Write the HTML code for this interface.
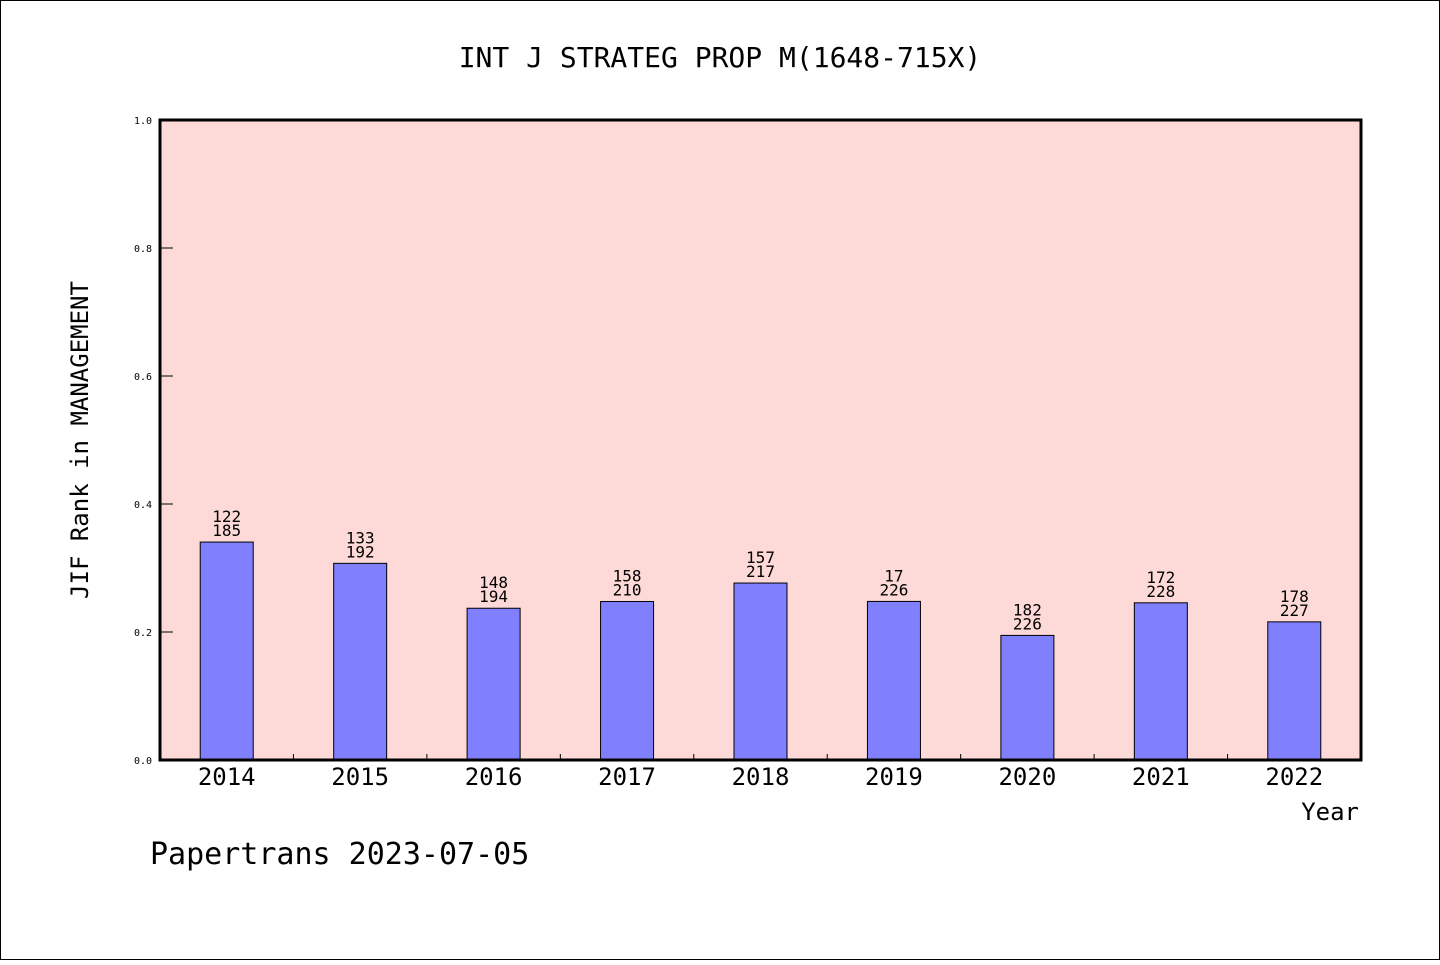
<!DOCTYPE html>
<html><head><meta charset="utf-8"><style>
body{margin:0;background:#fff}
svg text{font-family:"DejaVu Sans Mono","Liberation Mono",monospace;fill:#000}
</style></head><body>
<svg width="1440" height="960" xmlns="http://www.w3.org/2000/svg">
<rect x="0.5" y="0.5" width="1439" height="959" fill="#fff" stroke="#000"/>
<text x="720" y="67" font-size="28" text-anchor="middle">INT J STRATEG PROP M(1648-715X)</text>
<rect x="160" y="120" width="1201" height="640" fill="#fddad7"/>
<g id="bars"></g>
<rect x="160" y="120" width="1201" height="640" fill="none" stroke="#000" stroke-width="3"/>
<g id="axes"></g>
<text x="88" y="440" font-size="24" text-anchor="middle" transform="rotate(-90 88 440)">JIF Rank in MANAGEMENT</text>
<text x="1359" y="820" font-size="24" text-anchor="end">Year</text>
<text x="150" y="864" font-size="30">Papertrans 2023-07-05</text>
</svg>
<script>
const years=["2014","2015","2016","2017","2018","2019","2020","2021","2022"];
const ranks=[122,133,148,158,157,170,182,172,178];
const rankLabels=["122","133","148","158","157","17","182","172","178"];
const totals=[185,192,194,210,217,226,226,228,227];
const yTicks=["0.0","0.2","0.4","0.6","0.8","1.0"];
const NS="http://www.w3.org/2000/svg";
const X0=160,W=1201,Y0=760,H=640,n=years.length,step=W/n;
const xc=i=>X0+step*(i+0.5);
const ys=v=>Y0-v*H;
const bars=document.getElementById('bars'),axes=document.getElementById('axes');
function mk(t,a,p){const e=document.createElementNS(NS,t);for(const k in a)e.setAttribute(k,a[k]);p.appendChild(e);return e;}
years.forEach((y,i)=>{
 const v=1-ranks[i]/totals[i];
 const r=mk('rect',{x:xc(i)-26.5,y:ys(v),width:53,height:Y0-ys(v),fill:'#8080ff',stroke:'#000','stroke-width':1},bars);
 
 
 const t1=mk('text',{x:xc(i),y:ys(v)-20,'font-size':16,'text-anchor':'middle'},bars);t1.textContent=rankLabels[i];
 
 
 const t2=mk('text',{x:xc(i),y:ys(v)-6,'font-size':16,'text-anchor':'middle'},bars);t2.textContent=totals[i];
 
 
 const xl=mk('text',{x:xc(i),y:785,'font-size':24,'text-anchor':'middle'},axes);xl.textContent=y;
 
 
 if(i>0){const tk=mk('line',{x1:X0+step*i,x2:X0+step*i,y1:Y0,y2:Y0-6,stroke:'#000'},axes);
 
 }
});
yTicks.forEach(s=>{
 const v=parseFloat(s);
 const l=mk('line',{x1:X0,x2:X0+13,y1:ys(v),y2:ys(v),stroke:'#000'},axes);
 
 
 const t=mk('text',{x:X0-8,y:ys(v)+4,'font-size':10,'text-anchor':'end'},axes);t.textContent=s;
 
 
});
</script>
</body></html>
